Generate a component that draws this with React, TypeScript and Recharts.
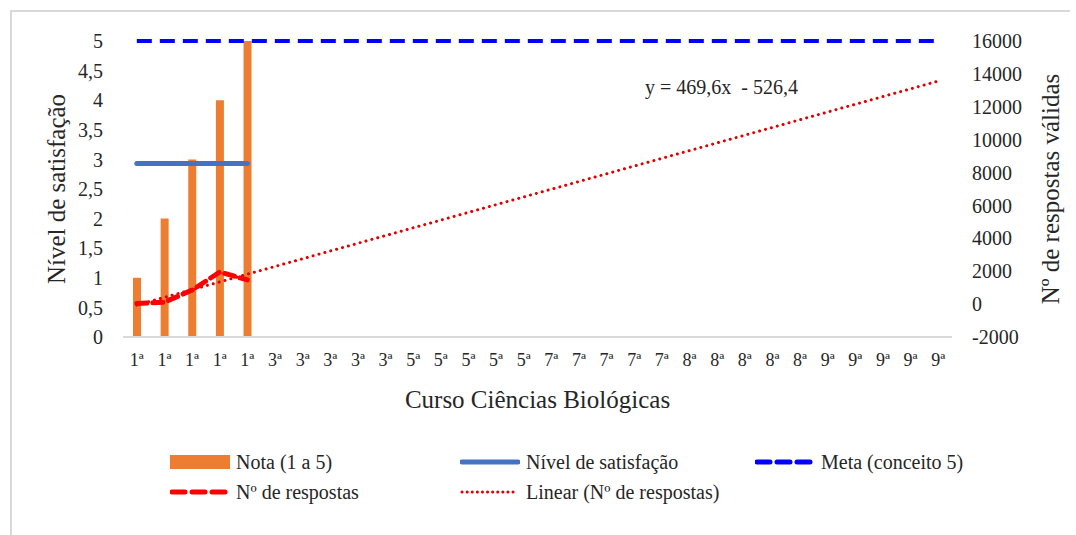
import React from 'react'
import { ComposedChart, Bar, Line, XAxis, YAxis, Label } from 'recharts'

// course semester labels (5 per semester)
const categories = [
  '1ª', '1ª', '1ª', '1ª', '1ª',
  '3ª', '3ª', '3ª', '3ª', '3ª',
  '5ª', '5ª', '5ª', '5ª', '5ª',
  '7ª', '7ª', '7ª', '7ª', '7ª',
  '8ª', '8ª', '8ª', '8ª', '8ª',
  '9ª', '9ª', '9ª', '9ª', '9ª',
]

const nota = [1, 2, 3, 4, 5]
const satisfacao = [2.93, 2.93, 2.93, 2.93, 2.93]
const meta = 5
const respostas = [30, 120, 850, 1950, 1470]
// trend line end points (first and last category)
const linearStart = -60
const linearEnd = 13560

const leftTicks = [0, 0.5, 1, 1.5, 2, 2.5, 3, 3.5, 4, 4.5, 5]
const rightTicks = [-2000, 0, 2000, 4000, 6000, 8000, 10000, 12000, 14000, 16000]

const data = categories.map((c, i) => ({
  key: i,
  label: c,
  nota: nota[i] ?? null,
  satisfacao: satisfacao[i] ?? null,
  meta,
  respostas: respostas[i] ?? null,
  linear: i === 0 ? linearStart : i === categories.length - 1 ? linearEnd : null,
}))

const FONT = "'Liberation Serif', 'DejaVu Serif', serif"

function LegendItem({ left, top, icon, text }: { left: number; top: number; icon: React.ReactNode; text: string }) {
  return (
    <div style={{ position: 'absolute', left, top, display: 'flex', alignItems: 'center', height: 24 }}>
      {icon}
      <span style={{ marginLeft: 6, fontSize: 20, color: '#262626', whiteSpace: 'nowrap', fontFamily: FONT }}>{text}</span>
    </div>
  )
}

function LineIcon({ color, width, dash, cap }: { color: string; width: number; dash?: string; cap?: 'round' | 'butt' }) {
  return (
    <svg width={60} height={12} style={{ display: 'block' }}>
      <line x1={2} y1={6} x2={58} y2={6} stroke={color} strokeWidth={width} strokeDasharray={dash} strokeLinecap={cap ?? 'round'} />
    </svg>
  )
}

export default function App() {
  return (
    <div style={{ position: 'absolute', left: 0, top: 0, width: 1076, height: 535, background: '#fff', fontFamily: FONT }}>
      <div style={{ position: 'absolute', left: 10, top: 10, width: 1058, height: 525, borderTop: '2px solid #d9d9d9', borderLeft: '2px solid #d9d9d9' }} />
      <ComposedChart
        width={1076}
        height={535}
        data={data}
        margin={{ top: 41, right: 0, bottom: 168, left: 0 }}
        barCategoryGap={0}
        style={{ position: 'absolute', left: 0, top: 0, fontFamily: FONT }}
      >
        <XAxis
          dataKey="key"
          tickFormatter={(v: number) => categories[v]}
          interval={0}
          tickLine={false}
          axisLine={{ stroke: '#d9d9d9', strokeWidth: 2 }}
          tick={{ fill: '#262626', fontSize: 18, fontFamily: FONT }}
          tickMargin={10}
          height={30}
        />
        <YAxis
          yAxisId="left"
          domain={[0, 5]}
          ticks={leftTicks}
          tickFormatter={(v: number) => String(v).replace('.', ',')}
          axisLine={false}
          tickLine={false}
          tickSize={0}
          tickMargin={20}
          width={123}
          tick={{ fill: '#262626', fontSize: 20, fontFamily: FONT }}
        >
          <Label value="Nível de satisfação" angle={-90} position="center" dx={-5} style={{ fontSize: 25, fill: '#262626', fontFamily: FONT }} />
        </YAxis>
        <YAxis
          yAxisId="right"
          orientation="right"
          domain={[-2000, 16000]}
          ticks={rightTicks}
          axisLine={false}
          tickLine={false}
          tickSize={0}
          tickMargin={20}
          width={124}
          tick={{ fill: '#262626', fontSize: 20, textAnchor: 'start', fontFamily: FONT }}
        >
          <Label value="Nº de respostas válidas" angle={-90} position="center" dx={36} style={{ fontSize: 25, fill: '#262626', fontFamily: FONT }} />
        </YAxis>
        <Bar yAxisId="left" dataKey="nota" fill="#ED7D31" barSize={8} isAnimationActive={false} />
        <Line yAxisId="left" dataKey="satisfacao" stroke="#4472C4" strokeWidth={5} strokeLinecap="round" dot={false} isAnimationActive={false} />
        <Line yAxisId="left" dataKey="meta" stroke="#0000FF" strokeWidth={4} strokeDasharray="15 8" dot={false} isAnimationActive={false} />
        <Line yAxisId="right" dataKey="linear" stroke="#E00000" strokeWidth={3} strokeDasharray="0.1 6" strokeLinecap="round" connectNulls dot={false} isAnimationActive={false} />
        <Line yAxisId="right" dataKey="respostas" stroke="#FF0000" strokeWidth={5} strokeDasharray="10 6" strokeLinecap="round" dot={false} isAnimationActive={false} />
      </ComposedChart>

      <div style={{ position: 'absolute', left: 645, top: 76, fontSize: 20, color: '#262626', whiteSpace: 'nowrap' }}>
        y = 469,6x &nbsp;- 526,4
      </div>
      <div style={{ position: 'absolute', left: 123, width: 829, top: 386, textAlign: 'center', fontSize: 25, color: '#262626' }}>
        Curso Ciências Biológicas
      </div>

      <LegendItem left={170} top={450} icon={<div style={{ width: 60, height: 14, background: '#ED7D31' }} />} text="Nota (1 a 5)" />
      <LegendItem left={460} top={450} icon={<LineIcon color="#4472C4" width={5} />} text="Nível de satisfação" />
      <LegendItem left={755} top={450} icon={<LineIcon color="#0000FF" width={5} dash="13 7" />} text="Meta (conceito 5)" />
      <LegendItem left={170} top={480} icon={<LineIcon color="#FF0000" width={5} dash="13 7" />} text="Nº de respostas" />
      <LegendItem left={460} top={480} icon={<LineIcon color="#E00000" width={3} dash="0.1 5" />} text="Linear (Nº de respostas)" />
    </div>
  )
}
